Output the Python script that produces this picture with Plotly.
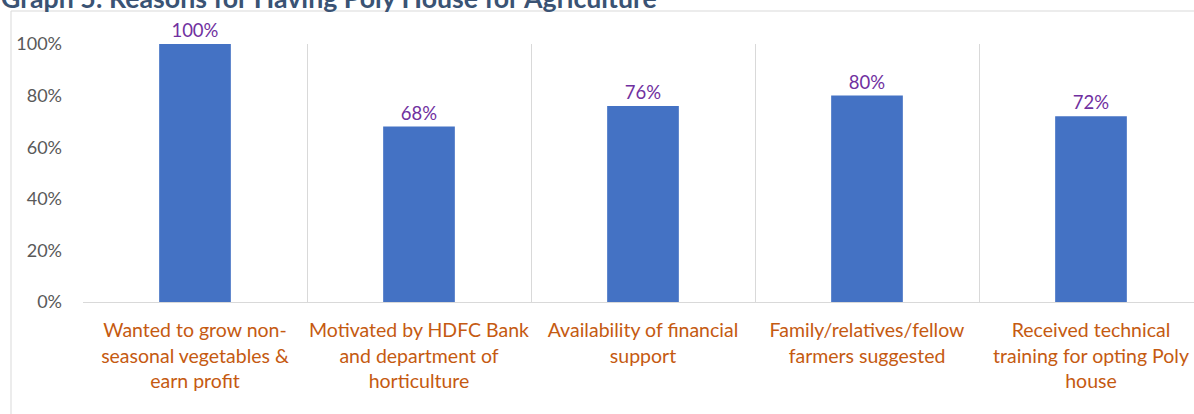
import plotly.graph_objects as go

categories = [
    "Wanted to grow non-<br>seasonal vegetables &<br>earn profit",
    "Motivated by HDFC Bank<br>and department of<br>horticulture",
    "Availability of financial<br>support",
    "Family/relatives/fellow<br>farmers suggested",
    "Received technical<br>training for opting Poly<br>house",
]
values = [1.00, 0.68, 0.76, 0.80, 0.72]
labels = ["100%", "68%", "76%", "80%", "72%"]
y_ticks = [0, 0.2, 0.4, 0.6, 0.8, 1.0]
y_tick_text = ["0%", "20%", "40%", "60%", "80%", "100%"]
title_text = "Graph 5: Reasons for Having Poly House for Agriculture"

W, H = 1194, 414
L, R, T, B = 83, 0, 44, 112
pw, ph = W - L - R, H - T - B

def px_x(p):
    return (p - L) / pw

def px_y(p):
    return 1 + (T - p) / ph

FONT = "Lato"

fig = go.Figure(go.Bar(
    x=list(range(len(categories))),
    y=values,
    text=labels,
    textposition="outside",
    textfont=dict(family=FONT, size=18.5, color="#7030A0"),
    marker=dict(color="#4472C4", line=dict(width=0)),
    cliponaxis=False,
    hoverinfo="skip",
))

fig.update_layout(
    width=W, height=H,
    margin=dict(l=L, r=R, t=T, b=B, pad=0, autoexpand=False),
    paper_bgcolor="white", plot_bgcolor="white",
    showlegend=False,
    bargap=0.68,
    font=dict(family=FONT),
    xaxis=dict(
        type="category",
        tickmode="array",
        tickvals=list(range(len(categories))),
        ticktext=categories,
        tickson="boundaries",
        tickangle=0,
        automargin=False,
        showgrid=True, gridcolor="#D9D9D9", gridwidth=1,
        ticks="", showline=True, linecolor="#D9D9D9", linewidth=1,
        tickfont=dict(family=FONT, size=19.5, color="#C55A11"),
        ticklabelstandoff=11,
        range=[-0.5, len(categories) - 0.5 - 9 / 224],
        zeroline=False,
    ),
    yaxis=dict(
        range=[0, 1.0],
        automargin=False,
        tickmode="array", tickvals=y_ticks, ticktext=y_tick_text,
        showgrid=False, zeroline=False, showline=False,
        ticks="", ticklabelstandoff=20,
        tickfont=dict(family=FONT, size=18, color="#595959"),
    ),
    shapes=[dict(
        type="rect", xref="paper", yref="paper",
        x0=px_x(11), x1=px_x(W + 20), y0=px_y(H + 20), y1=px_y(11),
        line=dict(color="#D9D9D9", width=1), fillcolor="rgba(0,0,0,0)",
        layer="below",
    )],
    annotations=[dict(
        text="<b>" + title_text + "</b>",
        xref="paper", yref="paper",
        x=px_x(-1), y=px_y(-2), xanchor="left", yanchor="middle",
        showarrow=False,
        font=dict(family=FONT, size=26.7, color="#3A5374"),
    )],
)

fig.write_html("out.html")
